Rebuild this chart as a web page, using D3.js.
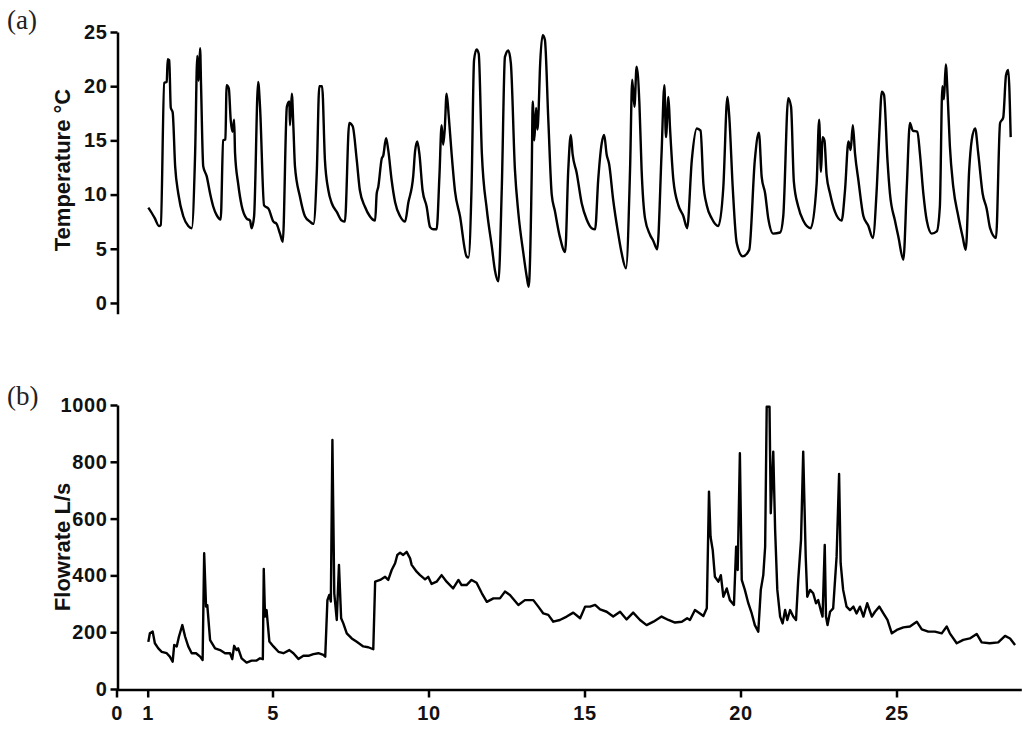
<!DOCTYPE html>
<html>
<head>
<meta charset="utf-8">
<script src="https://cdn.jsdelivr.net/npm/d3@7"></script>
<style>
  html, body { margin: 0; padding: 0; background: #fff; }
  svg { display: block; }
  .tick text { font-family: "Liberation Sans", Arial, sans-serif; font-weight: bold; letter-spacing: 0.6px; }
</style>
</head>
<body>
<svg id="chart" width="1024" height="733"></svg>
<script>
// ---------------- DATA ----------------
const xTicks = [0, 1, 5, 10, 15, 20, 25];
const tempTicks = [0, 5, 10, 15, 20, 25];
const flowTicks = [0, 200, 400, 600, 800, 1000];

const tempDays = [1.02,1.13,1.23,1.36,1.42,1.53,1.61,1.64,1.69,1.74,1.80,1.88,1.98,2.14,2.30,2.41,2.52,2.59,2.63,2.68,2.71,2.78,2.89,3.00,3.10,3.21,3.34,3.42,3.49,3.53,3.60,3.66,3.72,3.77,3.80,3.90,4.01,4.17,4.28,4.33,4.41,4.54,4.60,4.73,4.87,5.03,5.13,5.24,5.33,5.46,5.54,5.56,5.62,5.67,5.72,5.88,6.04,6.20,6.31,6.42,6.50,6.59,6.68,6.79,6.90,7.06,7.22,7.32,7.46,7.57,7.70,7.80,7.96,8.12,8.29,8.34,8.39,8.50,8.55,8.64,8.71,8.82,8.93,9.09,9.25,9.35,9.51,9.57,9.64,9.71,9.81,9.94,10.05,10.15,10.26,10.35,10.42,10.47,10.52,10.58,10.65,10.74,10.85,11.01,11.22,11.28,11.38,11.46,11.54,11.61,11.71,11.87,12.03,12.13,12.24,12.35,12.45,12.56,12.64,12.77,12.88,13.04,13.15,13.21,13.31,13.34,13.39,13.45,13.49,13.53,13.57,13.66,13.73,13.84,13.95,14.05,14.21,14.38,14.48,14.56,14.62,14.75,14.91,15.07,15.23,15.34,15.44,15.55,15.63,15.71,15.79,15.92,16.08,16.19,16.33,16.46,16.53,16.60,16.67,16.76,16.83,16.94,17.10,17.21,17.33,17.47,17.56,17.61,17.69,17.74,17.85,18.01,18.17,18.29,18.44,18.60,18.72,18.81,18.92,19.08,19.29,19.45,19.58,19.64,19.75,19.88,20.07,20.28,20.46,20.59,20.68,20.79,20.89,21.05,21.27,21.37,21.53,21.62,21.71,21.85,22.01,22.25,22.44,22.52,22.58,22.63,22.69,22.76,22.87,23.03,23.24,23.35,23.46,23.53,23.60,23.67,23.78,23.94,24.10,24.24,24.37,24.45,24.53,24.60,24.71,24.79,24.95,25.06,25.22,25.33,25.43,25.52,25.67,25.75,25.86,25.97,26.13,26.29,26.39,26.47,26.52,26.58,26.64,26.71,26.82,26.98,27.12,27.22,27.33,27.41,27.52,27.62,27.76,27.89,28.00,28.19,28.32,28.42,28.51,28.58,28.66];
const tempValues = [8.8,8.3,7.8,7.1,7.2,20.3,20.4,22.5,22.4,18.0,17.6,12.6,10.1,8.0,7.1,6.9,13.8,22.8,20.5,23.5,20.1,12.6,11.7,10.1,8.9,8.1,7.7,15.0,15.1,20.1,19.8,16.9,15.8,16.9,13.8,11.0,9.0,7.8,7.6,6.9,8.0,20.4,18.1,9.0,8.7,7.5,7.3,6.4,5.65,18.1,18.6,16.4,19.3,16.2,12.6,9.8,8.0,7.5,7.3,12.1,20.0,20.0,13.2,10.4,9.2,8.4,7.6,7.5,16.6,16.3,13.2,10.4,8.9,8.0,7.6,10.1,10.7,13.3,13.6,15.2,14.1,11.3,9.3,8.0,7.5,9.2,11.7,14.0,14.9,13.7,10.4,8.9,7.0,6.8,6.8,11.7,16.4,14.6,16.0,19.3,17.2,13.8,10.3,8.0,4.3,4.2,10.7,22.4,23.4,23.0,13.8,8.6,5.2,3.0,2.0,10.7,22.7,23.3,22.1,12.3,8.3,4.6,2.4,1.5,12.3,18.6,15.0,18.0,16.0,17.8,21.5,24.7,24.3,16.9,10.0,8.5,6.1,4.7,12.3,15.5,13.7,12.0,9.2,7.7,6.9,6.8,11.4,14.7,15.5,13.7,12.8,9.5,6.4,4.6,3.2,12.3,20.6,18.1,21.8,18.4,12.3,7.8,6.3,5.7,4.95,13.8,20.1,15.3,19.0,16.2,11.3,9.0,8.0,6.9,13.2,16.1,15.9,11.0,9.0,7.8,7.1,10.7,19.0,17.2,10.7,5.5,4.3,4.9,13.2,15.7,11.6,10.1,7.8,6.4,6.5,8.0,18.9,18.1,11.2,8.9,7.6,6.9,11.0,16.9,12.1,15.3,15.0,11.8,10.1,8.4,7.6,10.4,14.9,14.1,16.4,13.8,11.3,8.0,7.1,6.0,10.7,15.7,19.5,19.2,13.2,10.1,7.6,6.1,4.0,10.7,16.6,15.9,15.8,13.8,10.1,7.6,6.4,6.6,8.9,20.0,18.8,22.0,19.1,14.5,10.7,8.0,6.1,4.9,12.3,15.0,16.1,13.8,10.1,8.7,6.9,6.0,16.6,17.1,21.0,21.5,15.3];

const flowDays = [1.02,1.07,1.16,1.23,1.34,1.45,1.61,1.71,1.80,1.85,1.93,2.00,2.11,2.20,2.30,2.41,2.55,2.68,2.76,2.81,2.87,2.91,3.00,3.16,3.32,3.48,3.64,3.71,3.77,3.85,3.90,4.01,4.17,4.33,4.49,4.60,4.69,4.72,4.76,4.81,4.90,5.03,5.19,5.35,5.54,5.67,5.83,5.99,6.15,6.31,6.47,6.63,6.69,6.76,6.82,6.87,6.92,6.98,7.06,7.13,7.20,7.27,7.38,7.54,7.70,7.91,8.07,8.23,8.29,8.45,8.61,8.71,8.82,8.93,9.00,9.09,9.19,9.30,9.41,9.46,9.62,9.73,9.89,9.99,10.10,10.26,10.42,10.58,10.79,10.96,11.06,11.22,11.38,11.54,11.71,11.87,12.08,12.29,12.45,12.61,12.88,13.09,13.36,13.52,13.68,13.84,14.00,14.21,14.43,14.64,14.86,15.02,15.18,15.34,15.50,15.71,15.92,16.14,16.35,16.56,16.78,16.99,17.21,17.47,17.69,17.90,18.12,18.29,18.38,18.54,18.70,18.81,18.92,18.99,19.04,19.11,19.18,19.29,19.37,19.45,19.56,19.66,19.79,19.86,19.91,19.98,20.04,20.14,20.25,20.36,20.46,20.57,20.65,20.73,20.79,20.84,20.93,20.97,21.05,21.11,21.18,21.27,21.35,21.43,21.50,21.59,21.69,21.78,21.85,21.94,22.01,22.09,22.14,22.23,22.33,22.42,22.49,22.57,22.63,22.70,22.74,22.79,22.87,22.97,23.08,23.16,23.21,23.29,23.40,23.51,23.62,23.72,23.83,23.94,24.06,24.21,24.31,24.45,24.58,24.71,24.85,25.01,25.22,25.43,25.65,25.81,26.02,26.23,26.45,26.61,26.71,26.93,27.14,27.35,27.57,27.73,27.99,28.26,28.48,28.64,28.80];
const flowValues = [166,196,202,161,143,131,126,114,96,155,150,184,225,184,150,126,126,114,102,478,290,295,172,143,137,126,126,105,152,137,143,108,93,100,100,108,105,423,255,278,167,150,131,126,137,126,106,117,117,123,126,120,114,313,331,308,877,337,243,437,249,231,196,178,166,150,147,140,378,384,395,384,419,443,472,480,472,483,460,437,413,401,386,395,370,378,401,378,354,384,366,366,384,374,337,307,319,319,343,331,296,313,313,290,266,261,237,243,255,269,249,290,290,296,280,272,255,272,245,269,243,225,237,255,243,234,237,249,243,278,266,257,284,695,536,489,395,378,401,325,354,313,296,501,419,830,384,349,302,266,225,202,349,401,501,994,994,619,836,560,349,255,231,278,243,278,255,243,384,525,836,466,325,349,337,302,313,278,255,507,255,225,272,284,466,757,443,349,290,278,290,266,290,255,302,255,272,290,266,243,196,208,217,220,237,210,202,202,196,220,196,161,173,178,194,164,161,164,187,178,155];

// ---------------- CHART ----------------
const svg = d3.select("#chart");
const x = d3.scaleLinear().domain([0, 29]).range([116.5, 1021.3]);
const yT = d3.scaleLinear().domain([-1, 25]).range([313.8, 32]);
const yF = d3.scaleLinear().domain([0, 1000]).range([689, 405]);

function styleAxis(g, fs) {
  g.select(".domain").attr("stroke", "#000").attr("stroke-width", 2.5);
  g.selectAll(".tick line").attr("stroke", "#000").attr("stroke-width", 2.5);
  g.selectAll(".tick text").attr("fill", "#111").style("font-size", fs + "px");
}

const fmt = d3.format("d");

// Top panel y axis
const gT = svg.append("g").attr("transform", "translate(117.5,0)")
  .call(d3.axisLeft(yT).tickValues(tempTicks).tickFormat(fmt).tickSize(7).tickPadding(3).tickSizeOuter(0));
styleAxis(gT, 20);

// Bottom panel axes
const gF = svg.append("g").attr("transform", "translate(117.5,0)")
  .call(d3.axisLeft(yF).tickValues(flowTicks).tickFormat(fmt).tickSize(7).tickPadding(3).tickSizeOuter(0));
styleAxis(gF, 20);
const gX = svg.append("g").attr("transform", "translate(0,689.5)")
  .call(d3.axisBottom(x).tickValues(xTicks).tickFormat(fmt).tickSize(8).tickPadding(8).tickSizeOuter(0));
styleAxis(gX, 20);

// Lines
const tempData = tempDays.map((d, i) => [d, tempValues[i]]);
const flowData = flowDays.map((d, i) => [d, flowValues[i]]);

svg.append("path").datum(tempData)
  .attr("fill", "none").attr("stroke", "#000").attr("stroke-width", 2.4)
  .attr("stroke-linejoin", "round")
  .attr("d", d3.line().curve(d3.curveMonotoneX).x(d => x(d[0])).y(d => yT(d[1])));

svg.append("path").datum(flowData)
  .attr("fill", "none").attr("stroke", "#000").attr("stroke-width", 2.4)
  .attr("stroke-linejoin", "round")
  .attr("d", d3.line().x(d => x(d[0])).y(d => yF(d[1])));

// Axis titles
svg.append("text")
  .attr("transform", "translate(70,170) rotate(-90)")
  .attr("text-anchor", "middle")
  .style("font-family", "'Liberation Sans', Arial, sans-serif")
  .style("font-weight", "bold").style("font-size", "22px").attr("fill", "#111")
  .text("Temperature °C");
svg.append("text")
  .attr("transform", "translate(70,547) rotate(-90)")
  .attr("text-anchor", "middle")
  .style("font-family", "'Liberation Sans', Arial, sans-serif")
  .style("font-weight", "bold").style("font-size", "22px").attr("fill", "#111")
  .text("Flowrate L/s");

// Panel labels
svg.append("text").attr("x", 7).attr("y", 29)
  .style("font-family", "'Liberation Serif', 'Times New Roman', serif")
  .style("font-size", "27px").attr("fill", "#222").text("(a)");
svg.append("text").attr("x", 7).attr("y", 405)
  .style("font-family", "'Liberation Serif', 'Times New Roman', serif")
  .style("font-size", "27px").attr("fill", "#222").text("(b)");
</script>
</body>
</html>
